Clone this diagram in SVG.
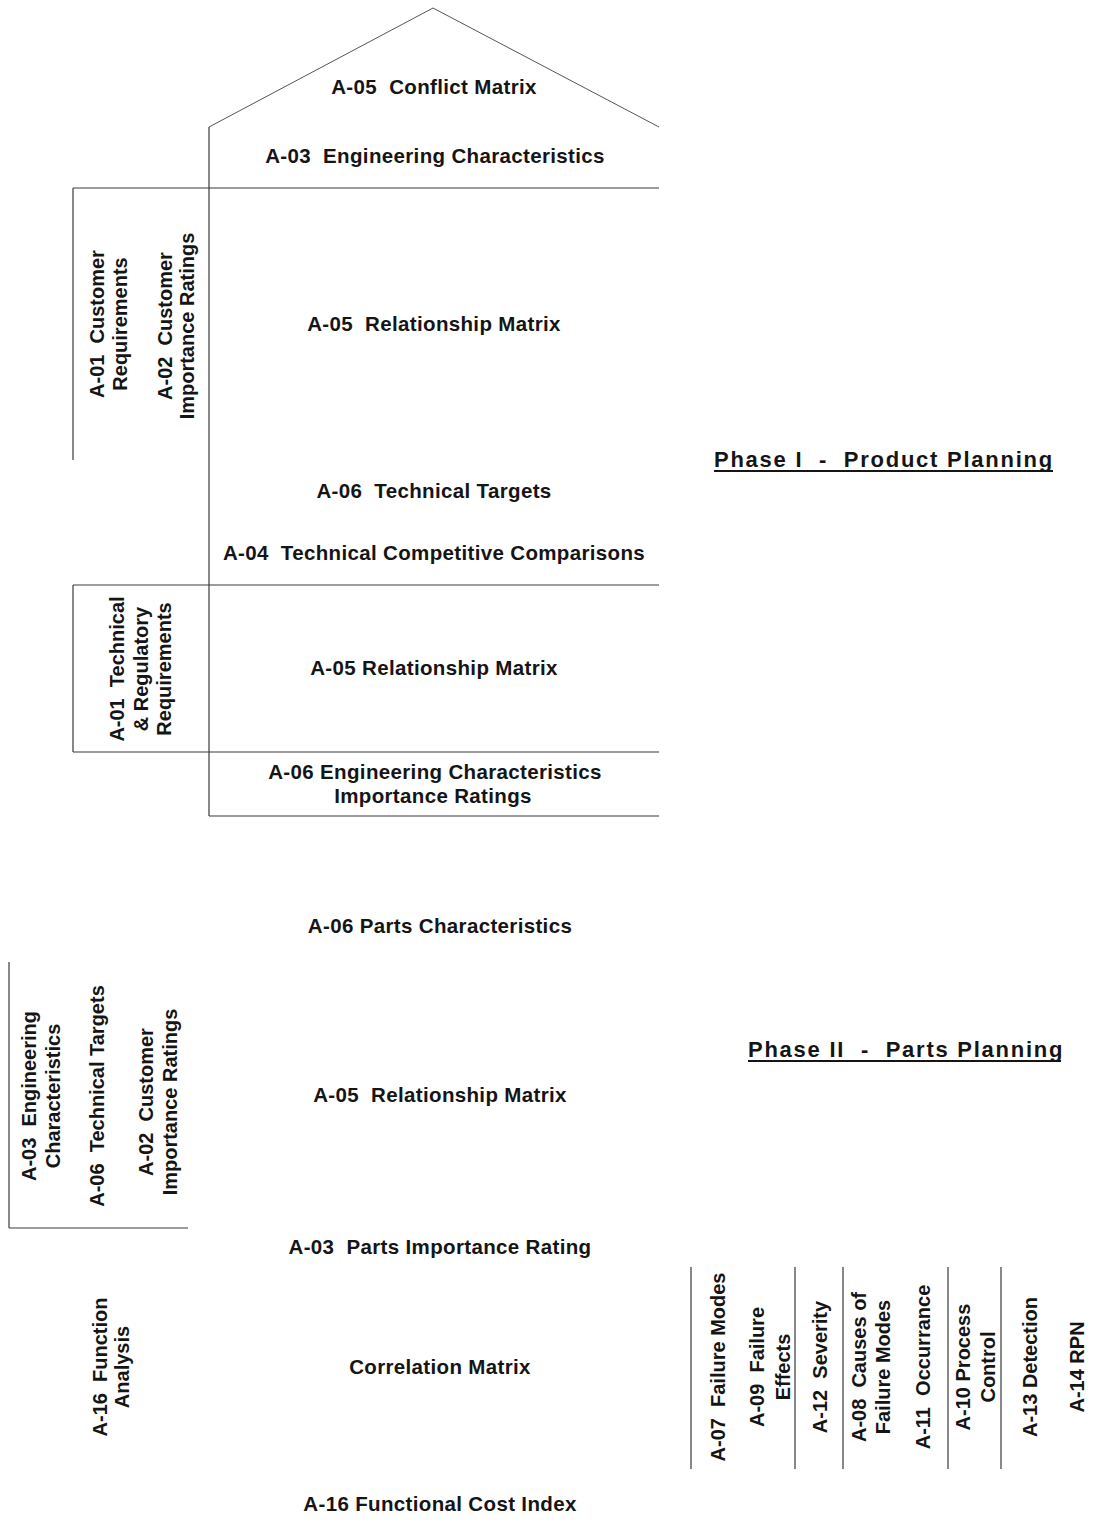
<svg xmlns="http://www.w3.org/2000/svg" width="1097" height="1537" viewBox="0 0 1097 1537" xml:space="preserve">
<style>
  .bg{fill:#ffffff}
  .ln{stroke:#3a3a3a;stroke-width:1.2;fill:none}
  .rf{stroke:#555;stroke-width:1;fill:none}
  text{font-family:"Liberation Sans",Arial,sans-serif;font-weight:bold;fill:#151515;white-space:pre}
  .h{font-size:20.5px;letter-spacing:0.35px;text-anchor:middle}
  .v{font-size:20px;text-anchor:middle}
  .ph{font-size:22px;letter-spacing:1.75px}
  .ul{stroke:#151515;stroke-width:2}
</style>
<rect class="bg" x="0" y="0" width="1097" height="1537"/>

<g id="connectors">
  <polyline class="rf" points="209,127 433,8 659,127"/>
  <line class="ln" x1="209" y1="127" x2="209" y2="816"/>
  <line class="ln" x1="73" y1="188" x2="659" y2="188"/>
  <line class="ln" x1="73" y1="188" x2="73" y2="460"/>
  <line class="ln" x1="73" y1="585" x2="659" y2="585"/>
  <line class="ln" x1="73" y1="585" x2="73" y2="752"/>
  <line class="ln" x1="73" y1="752" x2="659" y2="752"/>
  <line class="ln" x1="209" y1="816" x2="659" y2="816"/>
  <line class="ln" x1="9" y1="962" x2="9" y2="1228"/>
  <line class="ln" x1="9" y1="1228" x2="188" y2="1228"/>
  <line class="ln" x1="691" y1="1267" x2="691" y2="1469"/>
  <line class="ln" x1="795" y1="1267" x2="795" y2="1469"/>
  <line class="ln" x1="843" y1="1267" x2="843" y2="1469"/>
  <line class="ln" x1="948" y1="1267" x2="948" y2="1469"/>
  <line class="ln" x1="1001" y1="1267" x2="1001" y2="1469"/>
</g>

<g id="conflict-matrix"><text class="h" x="434" y="94">A-05  Conflict Matrix</text></g>
<g id="engineering-characteristics"><text class="h" x="435" y="163">A-03  Engineering Characteristics</text></g>
<g id="customer-requirements">
  <text class="v" transform="translate(104,324) rotate(-90)">A-01  Customer</text>
  <text class="v" transform="translate(127,324) rotate(-90)">Requirements</text>
</g>
<g id="customer-importance">
  <text class="v" transform="translate(172,326) rotate(-90)">A-02  Customer</text>
  <text class="v" transform="translate(194,326) rotate(-90)">Importance Ratings</text>
</g>
<g id="relationship-matrix-1"><text class="h" x="434" y="331">A-05  Relationship Matrix</text></g>
<g id="technical-targets"><text class="h" x="434" y="498">A-06  Technical Targets</text></g>
<g id="technical-comparisons"><text class="h" x="434" y="560">A-04  Technical Competitive Comparisons</text></g>
<g id="technical-regulatory">
  <text class="v" transform="translate(124,669) rotate(-90)">A-01  Technical</text>
  <text class="v" transform="translate(148,669) rotate(-90)">&amp; Regulatory</text>
  <text class="v" transform="translate(171,669) rotate(-90)">Requirements</text>
</g>
<g id="relationship-matrix-2"><text class="h" x="434" y="675">A-05 Relationship Matrix</text></g>
<g id="ec-importance">
  <text class="h" x="435" y="779">A-06 Engineering Characteristics</text>
  <text class="h" x="433" y="803">Importance Ratings</text>
</g>
<g id="phase-1">
  <text class="ph" x="714" y="467">Phase I  -  Product Planning</text>
  <line class="ul" x1="714" y1="471" x2="1053" y2="471"/>
</g>

<g id="parts-characteristics"><text class="h" x="440" y="933">A-06 Parts Characteristics</text></g>
<g id="p2-engineering">
  <text class="v" transform="translate(36,1096) rotate(-90)">A-03  Engineering</text>
  <text class="v" transform="translate(60,1096) rotate(-90)">Characteristics</text>
</g>
<g id="p2-technical-targets">
  <text class="v" transform="translate(104,1096) rotate(-90)">A-06  Technical Targets</text>
</g>
<g id="p2-customer-importance">
  <text class="v" transform="translate(153,1102) rotate(-90)">A-02  Customer</text>
  <text class="v" transform="translate(177,1102) rotate(-90)">Importance Ratings</text>
</g>
<g id="relationship-matrix-3"><text class="h" x="440" y="1102">A-05  Relationship Matrix</text></g>
<g id="parts-importance"><text class="h" x="440" y="1254">A-03  Parts Importance Rating</text></g>
<g id="phase-2">
  <text class="ph" x="748" y="1057">Phase II  -  Parts Planning</text>
  <line class="ul" x1="748" y1="1061" x2="1061" y2="1061"/>
</g>

<g id="function-analysis">
  <text class="v" transform="translate(107,1367) rotate(-90)">A-16  Function</text>
  <text class="v" transform="translate(129,1367) rotate(-90)">Analysis</text>
</g>
<g id="correlation-matrix"><text class="h" x="440" y="1374">Correlation Matrix</text></g>
<g id="functional-cost-index"><text class="h" x="440" y="1511">A-16 Functional Cost Index</text></g>

<g id="fmea">
  <text class="v" transform="translate(725,1367) rotate(-90)">A-07  Failure Modes</text>
  <text class="v" transform="translate(764,1367) rotate(-90)">A-09  Failure</text>
  <text class="v" transform="translate(790,1367) rotate(-90)">Effects</text>
  <text class="v" transform="translate(827,1367) rotate(-90)">A-12  Severity</text>
  <text class="v" transform="translate(866,1367) rotate(-90)">A-08  Causes of</text>
  <text class="v" transform="translate(890,1367) rotate(-90)">Failure Modes</text>
  <text class="v" transform="translate(930,1367) rotate(-90)">A-11  Occurrance</text>
  <text class="v" transform="translate(970,1367) rotate(-90)">A-10 Process</text>
  <text class="v" transform="translate(995,1367) rotate(-90)">Control</text>
  <text class="v" transform="translate(1037,1367) rotate(-90)">A-13 Detection</text>
  <text class="v" transform="translate(1084,1367) rotate(-90)">A-14 RPN</text>
</g>
</svg>
